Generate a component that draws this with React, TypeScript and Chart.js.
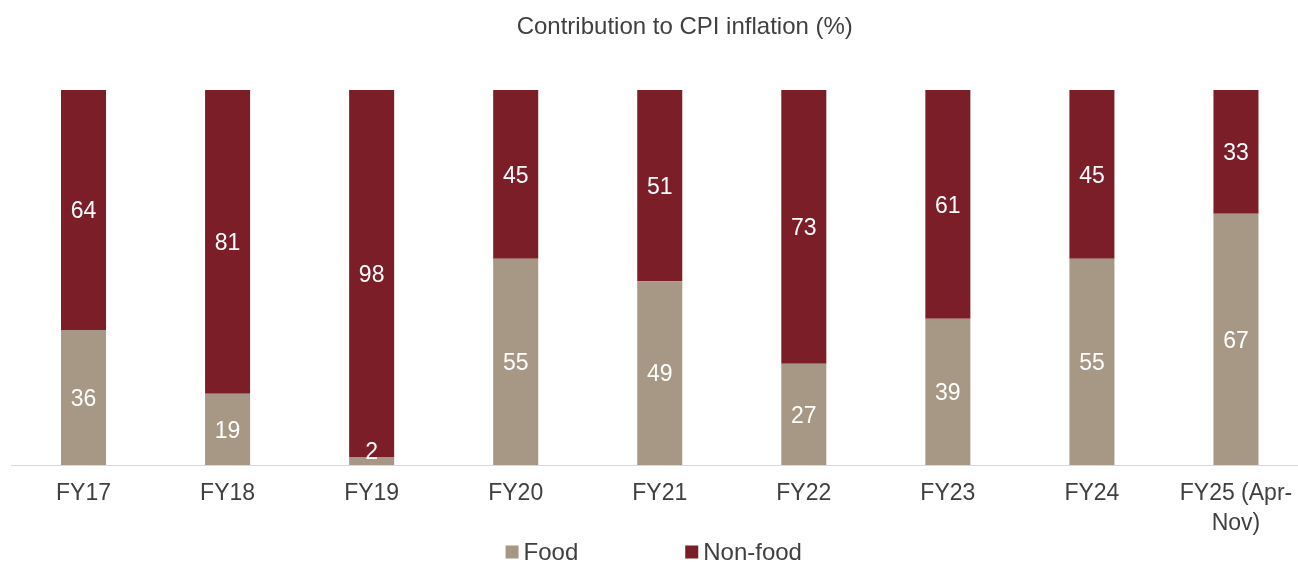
import React, { useEffect, useRef } from 'react';
import { Chart, registerables } from 'chart.js';

Chart.register(...registerables);

const chartTitle = 'Contribution to CPI inflation (%)';
const categories: (string | string[])[] = ['FY17', 'FY18', 'FY19', 'FY20', 'FY21', 'FY22', 'FY23', 'FY24', ['FY25 (Apr-', 'Nov)']];
const foodValues = [36, 19, 2, 55, 49, 27, 39, 55, 67];
const nonFoodValues = [64, 81, 98, 45, 51, 73, 61, 45, 33];
const seriesNames = ['Food', 'Non-food'];
const yMin = 0;
const yMax = 100;

const FOOD_COLOR = '#A69884';
const NONFOOD_COLOR = '#7B1E28';
const TEXT_COLOR = '#404040';
const FONT_FAMILY = "'Liberation Sans', Arial, Helvetica, sans-serif";
const TITLE_SIZE = 24;
const TICK_SIZE = 23;
const LABEL_SIZE = 23;
const LEGEND_SIZE = 24;

const titlePlugin = {
  id: 'customTitle',
  afterDraw(chart: any) {
    const ctx = chart.ctx;
    ctx.save();
    ctx.font = `${TITLE_SIZE}px ${FONT_FAMILY}`;
    ctx.fillStyle = TEXT_COLOR;
    ctx.textAlign = 'center';
    ctx.textBaseline = 'middle';
    const cx = (chart.chartArea.left + chart.chartArea.right) / 2 + 25;
    ctx.fillText(chartTitle, cx, 27);
    ctx.restore();
  },
};

const dataLabelPlugin = {
  id: 'segmentLabels',
  afterDatasetsDraw(chart: any) {
    const ctx = chart.ctx;
    ctx.save();
    ctx.font = `${LABEL_SIZE}px ${FONT_FAMILY}`;
    ctx.fillStyle = '#FFFFFF';
    ctx.textAlign = 'center';
    ctx.textBaseline = 'middle';
    chart.data.datasets.forEach((ds: any, di: number) => {
      const meta = chart.getDatasetMeta(di);
      meta.data.forEach((el: any, i: number) => {
        const v = ds.data[i];
        const top = Math.min(el.y, el.base);
        const bottom = Math.max(el.y, el.base);
        let cy = (top + bottom) / 2 + 2;
        const maxY = chart.chartArea.bottom - 12;
        if (cy > maxY) cy = maxY;
        ctx.fillText(String(v), el.x, cy);
      });
    });
    ctx.restore();
  },
};

const legendPlugin = {
  id: 'customLegend',
  afterDraw(chart: any) {
    const ctx = chart.ctx;
    ctx.save();
    ctx.font = `${LEGEND_SIZE}px ${FONT_FAMILY}`;
    ctx.textBaseline = 'middle';
    ctx.textAlign = 'left';
    const box = 13;
    const boxGap = 5;
    const itemGap = 107;
    const items = chart.data.datasets.map((ds: any) => ({
      text: ds.label,
      color: ds.backgroundColor,
      w: box + boxGap + ctx.measureText(ds.label).width,
    }));
    const total = items.reduce((s: number, it: any) => s + it.w, 0) + itemGap * (items.length - 1);
    const centerX = (chart.chartArea.left + chart.chartArea.right) / 2 - 6;
    const cy = chart.height - 10;
    let x = centerX - total / 2;
    items.forEach((it: any) => {
      ctx.fillStyle = it.color;
      ctx.fillRect(x, cy - box / 2, box, box);
      ctx.fillStyle = TEXT_COLOR;
      ctx.fillText(it.text, x + box + boxGap, cy + 1);
      x += it.w + itemGap;
    });
    ctx.restore();
  },
};

export default function App() {
  const canvasRef = useRef<HTMLCanvasElement | null>(null);

  useEffect(() => {
    if (!canvasRef.current) return;
    const chart = new Chart(canvasRef.current, {
      type: 'bar',
      data: {
        labels: categories as any,
        datasets: [
          {
            label: seriesNames[0],
            data: foodValues,
            backgroundColor: FOOD_COLOR,
            borderWidth: 0,
            categoryPercentage: 1,
            barPercentage: 0.3125,
          },
          {
            label: seriesNames[1],
            data: nonFoodValues,
            backgroundColor: NONFOOD_COLOR,
            borderWidth: 0,
            categoryPercentage: 1,
            barPercentage: 0.3125,
          },
        ],
      },
      options: {
        responsive: false,
        animation: false,
        devicePixelRatio: 1,
        layout: { padding: { left: 11.5, right: 2, top: 90, bottom: 17 } },
        plugins: {
          legend: { display: false },
          tooltip: { enabled: false },
          title: { display: false },
        },
        scales: {
          x: {
            stacked: true,
            grid: { display: false },
            border: { display: true, color: '#D9D9D9', width: 1 },
            ticks: {
              color: TEXT_COLOR,
              font: { family: FONT_FAMILY, size: TICK_SIZE, lineHeight: '30px' },
              padding: 6,
              maxRotation: 0,
              autoSkip: false,
            },
          },
          y: {
            stacked: true,
            display: false,
            min: yMin,
            max: yMax,
          },
        },
      },
      plugins: [dataLabelPlugin, legendPlugin, titlePlugin],
    });
    return () => chart.destroy();
  }, []);

  return (
    <div style={{ position: 'absolute', left: 0, top: 0, width: 1298, height: 562, overflow: 'hidden', background: '#fff' }}>
      <canvas ref={canvasRef} width={1310} height={562} style={{ display: 'block' }} />
    </div>
  );
}
